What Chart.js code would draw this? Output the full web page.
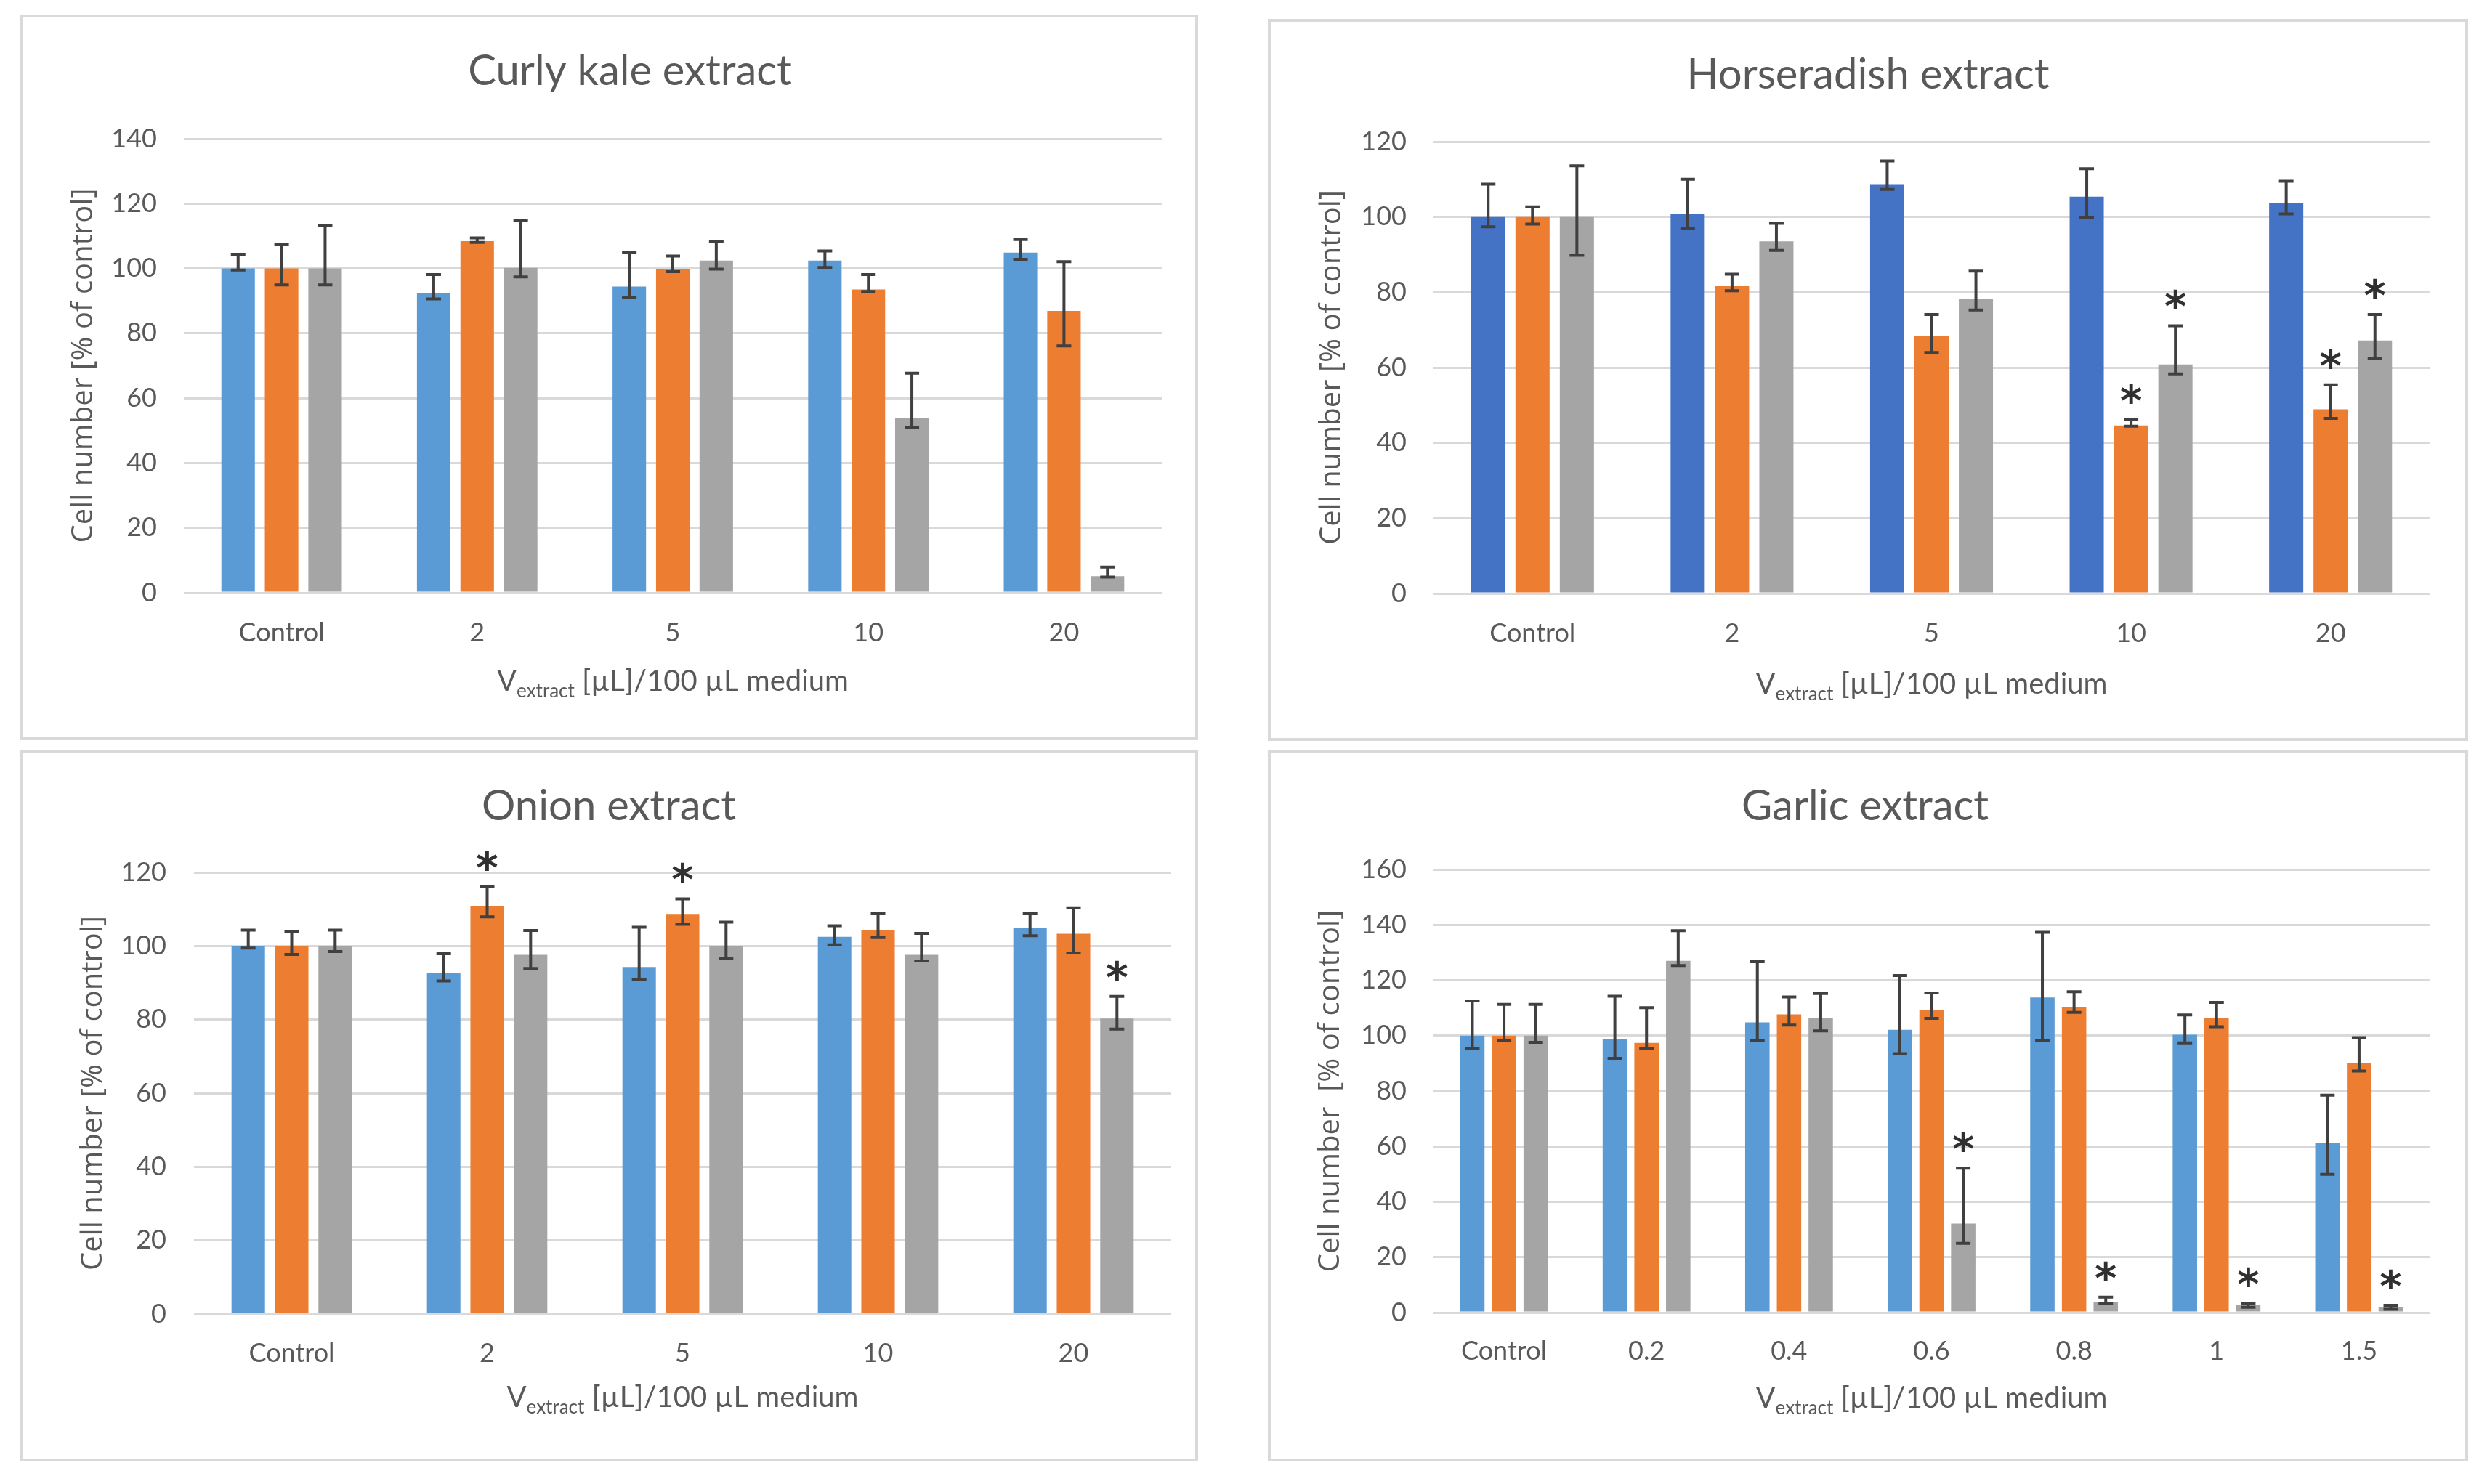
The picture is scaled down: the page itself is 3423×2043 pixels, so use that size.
<!DOCTYPE html>
<html>
<head>
<meta charset="utf-8">
<script src="https://cdn.jsdelivr.net/npm/chart.js@4.4.0/dist/chart.umd.min.js"></script>
<style>
    body { margin: 0; background: #ffffff; }
    #page { position: relative; width: 3423px; height: 2043px; background: #ffffff; overflow: hidden; }
    .panel { position: absolute; outline: 4px solid #d9d9d9; outline-offset: -4px; }
    .panel canvas { position: absolute; left: 0; top: 0; }
</style>
</head>
<body>
<div id="page">
    <div class="panel" id="p1"><canvas id="kaleChart"></canvas></div>
    <div class="panel" id="p2"><canvas id="horseChart"></canvas></div>
    <div class="panel" id="p3"><canvas id="onionChart"></canvas></div>
    <div class="panel" id="p4"><canvas id="garlicChart"></canvas></div>
</div>
<script>
// ---- data ----
const doseLabels = ["Control", "2", "5", "10", "20"];
const garlicLabels = ["Control", "0.2", "0.4", "0.6", "0.8", "1", "1.5"];

const kaleTicks = [0, 20, 40, 60, 80, 100, 120, 140];
const horseTicks = [0, 20, 40, 60, 80, 100, 120];
const onionTicks = [0, 20, 40, 60, 80, 100, 120];
const garlicTicks = [0, 20, 40, 60, 80, 100, 120, 140, 160];

// Curly kale
const kaleA = [100, 92.3, 94.4, 102.4, 104.9];
const kaleAHi = [104.4, 98.1, 104.9, 105.4, 108.9];
const kaleALo = [99.5, 90.6, 91.0, 100.3, 102.8];
const kaleB = [100, 108.4, 99.9, 93.5, 86.9];
const kaleBHi = [107.3, 109.4, 103.8, 98.1, 102.1];
const kaleBLo = [94.9, 108.0, 99.0, 92.9, 76.1];
const kaleC = [100, 100.2, 102.4, 53.8, 5.1];
const kaleCHi = [113.3, 114.9, 108.4, 67.7, 7.9];
const kaleCLo = [94.9, 97.4, 99.8, 50.9, 4.8];

// Horseradish
const horseA = [100, 100.7, 108.7, 105.4, 103.7];
const horseAHi = [108.7, 110.0, 114.9, 112.8, 109.5];
const horseALo = [97.4, 96.9, 107.3, 99.9, 100.8];
const horseB = [100, 81.6, 68.4, 44.6, 48.9];
const horseBHi = [102.7, 84.8, 74.1, 46.2, 55.4];
const horseBLo = [98.1, 80.4, 64.0, 44.4, 46.5];
const horseC = [100, 93.5, 78.3, 60.8, 67.2];
const horseCHi = [113.6, 98.3, 85.6, 71.1, 74.1];
const horseCLo = [89.8, 91.1, 75.3, 58.3, 62.5];
const horseBStars = [0, 0, 0, 1, 1];
const horseCStars = [0, 0, 0, 1, 1];

// Onion
const onionA = [100, 92.6, 94.3, 102.5, 105.0];
const onionAHi = [104.3, 97.9, 105.1, 105.5, 108.9];
const onionALo = [99.4, 90.5, 90.9, 100.3, 102.8];
const onionB = [100, 110.9, 108.7, 104.2, 103.3];
const onionBHi = [103.8, 116.1, 112.8, 108.9, 110.4];
const onionBLo = [97.7, 107.9, 105.9, 102.3, 98.1];
const onionC = [100, 97.6, 99.9, 97.6, 80.3];
const onionCHi = [104.3, 104.2, 106.5, 103.4, 86.3];
const onionCLo = [98.5, 93.9, 96.5, 95.9, 77.4];
const onionBStars = [0, 1, 1, 0, 0];
const onionCStars = [0, 0, 0, 0, 1];

// Garlic
const garlicA = [100, 98.6, 104.8, 102.1, 113.8, 100.3, 61.2];
const garlicAHi = [112.5, 114.2, 126.7, 121.7, 137.3, 107.5, 78.5];
const garlicALo = [95.2, 91.8, 98.1, 93.5, 98.1, 97.4, 49.9];
const garlicB = [100, 97.4, 107.7, 109.4, 110.4, 106.5, 90.1];
const garlicBHi = [111.3, 110.1, 114.0, 115.4, 115.9, 112.0, 99.3];
const garlicBLo = [98.1, 95.2, 103.8, 106.2, 108.4, 103.2, 87.2];
const garlicC = [100, 127.0, 106.5, 32.1, 3.9, 2.6, 2.1];
const garlicCHi = [111.3, 137.9, 115.2, 52.1, 5.6, 3.4, 2.6];
const garlicCLo = [97.6, 125.3, 101.7, 25.0, 3.2, 1.9, 1.2];
const garlicCStars = [0, 0, 0, 1, 1, 1, 1];

// ---- look ----
const BLUE = "#5B9BD5";
const DARK_BLUE = "#4472C4";
const ORANGE = "#ED7D31";
const GRAY = "#A5A5A5";
const TEXT = "#595959";
const GRID = "#D9D9D9";

// error bars + asterisks
const errorBarPlugin = {
    id: "errorBars",
    afterDatasetsDraw(chart) {
        const ctx = chart.ctx;
        const y = chart.scales.y;
        ctx.save();
        chart.data.datasets.forEach((ds, i) => {
            const meta = chart.getDatasetMeta(i);
            meta.data.forEach((bar, j) => {
                const top = y.getPixelForValue(ds.errHi[j]);
                const bot = y.getPixelForValue(ds.errLo[j]);
                ctx.strokeStyle = "#404040";
                ctx.lineWidth = 4;
                ctx.beginPath();
                ctx.moveTo(bar.x, top);
                ctx.lineTo(bar.x, bot);
                ctx.moveTo(bar.x - 10, top);
                ctx.lineTo(bar.x + 10, top);
                ctx.moveTo(bar.x - 10, bot);
                ctx.lineTo(bar.x + 10, bot);
                ctx.stroke();
                if (ds.stars && ds.stars[j]) {
                    ctx.fillStyle = "#303030";
                    ctx.font = "bold 58px 'DejaVu Sans'";
                    ctx.textAlign = "center";
                    ctx.textBaseline = "alphabetic";
                    ctx.fillText("*", bar.x, top - 6);
                }
            });
        });
        ctx.restore();
    },
};

// chart title, centred on the panel frame
const panelTitlePlugin = {
    id: "panelTitle",
    afterDraw(chart, args, opts) {
        const ctx = chart.ctx;
        ctx.save();
        ctx.fillStyle = TEXT;
        ctx.font = "58px Lato";
        ctx.textAlign = "center";
        ctx.textBaseline = "middle";
        ctx.fillText(opts.text, opts.x, opts.y);
        ctx.restore();
    },
};

// x-axis title with subscript
const xTitlePlugin = {
    id: "xTitleSub",
    afterDraw(chart, args, opts) {
        const ctx = chart.ctx;
        const area = chart.chartArea;
        const cx = (area.left + area.right) / 2;
        const cy = area.bottom + opts.offset;
        const big = "40px Lato";
        const small = "26px Lato";
        const p1 = "V", p2 = "extract", p3 = " [\u00B5L]/100 \u00B5L medium";
        ctx.save();
        ctx.fillStyle = TEXT;
        ctx.textBaseline = "alphabetic";
        ctx.textAlign = "left";
        ctx.font = big;
        const w1 = ctx.measureText(p1).width;
        const w3 = ctx.measureText(p3).width;
        ctx.font = small;
        const w2 = ctx.measureText(p2).width;
        let x = cx - (w1 + w2 + w3) / 2;
        const base = cy + 14;
        ctx.font = big;
        ctx.fillText(p1, x, base);
        x += w1;
        ctx.font = small;
        ctx.fillText(p2, x, base + 9);
        x += w2;
        ctx.font = big;
        ctx.fillText(p3, x, base);
        ctx.restore();
    },
};

function bars(label, data, color, hi, lo, stars) {
    return {
        label: label,
        data: data,
        backgroundColor: color,
        borderWidth: 0,
        categoryPercentage: 0.667,
        barPercentage: 0.77,
        errHi: hi,
        errLo: lo,
        stars: stars,
    };
}

function makePanel(boxId, canvasId, g, title, labels, ticks, yTitle, datasets) {
    const box = document.getElementById(boxId);
    box.style.left = g.left + "px";
    box.style.top = g.top + "px";
    box.style.width = g.w + "px";
    box.style.height = g.h + "px";
    const canvas = document.getElementById(canvasId);
    canvas.width = g.w;
    canvas.height = g.h;
    canvas.style.width = g.w + "px";
    canvas.style.height = g.h + "px";

    const yTitleLH = 40 * 1.2;
    const tickLH = 36 * 1.2;

    return new Chart(canvas.getContext("2d"), {
        type: "bar",
        data: { labels: labels, datasets: datasets },
        options: {
            responsive: false,
            animation: false,
            devicePixelRatio: 1,
            layout: { padding: { left: 0, right: g.padRight, top: g.chartTop, bottom: 0 } },
            plugins: {
                legend: { display: false },
                tooltip: { enabled: false },
                title: { display: false },
                panelTitle: { text: title, x: g.titleX, y: g.titleY },
                xTitleSub: { offset: g.xTitleY - g.chartBottom },
            },
            scales: {
                x: {
                    grid: { display: false, drawTicks: false },
                    border: { display: false },
                    ticks: {
                        color: TEXT,
                        font: { family: "Lato", size: 36, lineHeight: 1.2 },
                        padding: g.catY - g.chartBottom - tickLH / 2,
                        maxRotation: 0,
                    },
                    afterFit: function (scale) {
                        scale.height = g.h - g.chartBottom;
                    },
                },
                y: {
                    min: 0,
                    max: ticks[ticks.length - 1],
                    afterBuildTicks: function (scale) {
                        scale.ticks = ticks.map((v) => ({ value: v }));
                    },
                    grid: { color: GRID, lineWidth: 3, drawTicks: false },
                    border: { display: false },
                    ticks: {
                        color: TEXT,
                        font: { family: "Lato", size: 36, lineHeight: 1.2 },
                        padding: g.chartLeft - g.tickRight,
                    },
                    title: {
                        display: true,
                        text: yTitle,
                        color: TEXT,
                        font: { family: "Open Sans", size: 40, weight: "normal", lineHeight: 1.2 },
                        padding: { top: g.yTitleX - yTitleLH / 2, bottom: 0 },
                    },
                    afterFit: function (scale) {
                        scale.width = g.chartLeft;
                    },
                },
            },
        },
        plugins: [errorBarPlugin, panelTitlePlugin, xTitlePlugin],
    });
}

document.addEventListener("DOMContentLoaded", function () {
    // frames and plot areas, in pixels of the original
    const g1 = { left: 27, top: 20, w: 1622, h: 999, chartLeft: 226, padRight: 50, chartTop: 171, chartBottom: 796, titleX: 840, titleY: 78, yTitleX: 89, tickRight: 189, catY: 851, xTitleY: 917 };
    const g2 = { left: 1745, top: 26, w: 1652, h: 994, chartLeft: 227, padRight: 52, chartTop: 169, chartBottom: 791, titleX: 826, titleY: 77, yTitleX: 89, tickRight: 191, catY: 846, xTitleY: 915 };
    const g3 = { left: 27, top: 1033, w: 1622, h: 979, chartLeft: 240, padRight: 37, chartTop: 168, chartBottom: 776, titleX: 811, titleY: 77, yTitleX: 102, tickRight: 202, catY: 830, xTitleY: 890 };
    const g4 = { left: 1745, top: 1033, w: 1652, h: 979, chartLeft: 227, padRight: 52, chartTop: 164, chartBottom: 774, titleX: 822, titleY: 77, yTitleX: 87, tickRight: 191, catY: 827, xTitleY: 891 };

    makePanel("p1", "kaleChart", g1, "Curly kale extract", doseLabels, kaleTicks, "Cell number [% of control]", [
        bars("A", kaleA, BLUE, kaleAHi, kaleALo, null),
        bars("B", kaleB, ORANGE, kaleBHi, kaleBLo, null),
        bars("C", kaleC, GRAY, kaleCHi, kaleCLo, null),
    ]);

    makePanel("p2", "horseChart", g2, "Horseradish extract", doseLabels, horseTicks, "Cell number [% of control]", [
        bars("A", horseA, DARK_BLUE, horseAHi, horseALo, null),
        bars("B", horseB, ORANGE, horseBHi, horseBLo, horseBStars),
        bars("C", horseC, GRAY, horseCHi, horseCLo, horseCStars),
    ]);

    makePanel("p3", "onionChart", g3, "Onion extract", doseLabels, onionTicks, "Cell number [% of control]", [
        bars("A", onionA, BLUE, onionAHi, onionALo, null),
        bars("B", onionB, ORANGE, onionBHi, onionBLo, onionBStars),
        bars("C", onionC, GRAY, onionCHi, onionCLo, onionCStars),
    ]);

    makePanel("p4", "garlicChart", g4, "Garlic extract", garlicLabels, garlicTicks, "Cell number  [% of control]", [
        bars("A", garlicA, BLUE, garlicAHi, garlicALo, null),
        bars("B", garlicB, ORANGE, garlicBHi, garlicBLo, null),
        bars("C", garlicC, GRAY, garlicCHi, garlicCLo, garlicCStars),
    ]);
});
</script>
</body>
</html>
